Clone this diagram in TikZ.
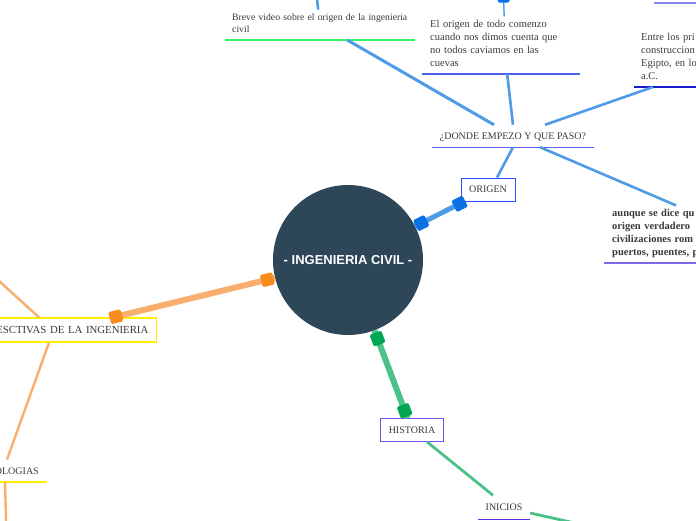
\documentclass[tikz,border=0pt]{standalone}
\usepackage{fontspec}
\setmainfont{Liberation Serif}
\newfontfamily\hubfont{Liberation Sans}
\usetikzlibrary{calc}
\definecolor{hub}{HTML}{2D4758}
\definecolor{txtgray}{HTML}{3A3A3A}
\definecolor{bluel}{HTML}{4F9BE8}
\definecolor{blued}{HTML}{0B6FE6}
\definecolor{orangel}{HTML}{F8AE6C}
\definecolor{oranged}{HTML}{F78B1E}
\definecolor{greenl}{HTML}{4CC28A}
\definecolor{greend}{HTML}{00A651}
\definecolor{origenb}{HTML}{2B4BFF}
\definecolor{dondeb}{HTML}{5B5BEA}
\definecolor{brevegr}{HTML}{38F06A}
\definecolor{elorb}{HTML}{4A62EA}
\definecolor{entreb}{HTML}{1A1AC8}
\definecolor{topp}{HTML}{8585F2}
\definecolor{aunqp}{HTML}{7B6DE0}
\definecolor{histp}{HTML}{7050F0}
\definecolor{inip}{HTML}{5A2EE0}
\definecolor{yel}{HTML}{FFEE00}
\begin{document}
\begin{tikzpicture}[x=1pt,y=-1pt,
  txt/.style={font=\fontsize{10.5}{13}\selectfont, text=txtgray, inner xsep=7, inner ysep=3.5, align=left},
  btxt/.style={txt, font=\bfseries\fontsize{10.5}{13}\selectfont},
  capbox/.style={font=\fontsize{10}{12}\selectfont, text=txtgray, text height=6.8, text depth=0, inner sep=0},
  ul/.style={line width=1.4},
  thinb/.style={draw=bluel, line width=2.6},
  thickb/.style={draw=bluel, line width=5},
  thino/.style={draw=orangel, line width=2.4},
  thicko/.style={draw=orangel, line width=6},
  thing/.style={draw=greenl, line width=2.8},
  thickg/.style={draw=greenl, line width=6},
  dia/.style={fill=#1, minimum size=12.5, inner sep=0, rounded corners=1.5}
]
\useasboundingbox (0,0) rectangle (696,520);
\clip (0,0) rectangle (696,520);
\fill[white] (0,0) rectangle (696,520);

% central topic
\node[circle, fill=hub, minimum size=150, inner sep=0, text=white,
      font=\hubfont\bfseries\fontsize{13}{15}\selectfont] (c) at (348,260) {- INGENIERIA CIVIL -};

% main topics
\node[capbox, draw=origenb, line width=1, minimum width=54, minimum height=23] (origen) at (488,189.5) {ORIGEN};
\node[capbox, font=\fontsize{10.8}{12}\selectfont, draw=yel, line width=1.2, text width=170, align=right, inner xsep=8, minimum height=24, anchor=east] (persp) at (157,330) {ESCTIVAS DE LA INGENIERIA};
\node[capbox, draw=histp, line width=1.2, minimum width=62.5, minimum height=22.5] (historia) at (412,430) {HISTORIA};

% subtopics
\node[capbox, minimum width=162, minimum height=22] (donde) at (513,136) {¿DONDE EMPEZO Y QUE PASO?};
\draw[ul, draw=dondeb] (donde.south west) -- (donde.south east);

\node[txt, font=\fontsize{9.7}{12.5}\selectfont, text width=176, anchor=south west] (breve) at (225,40) {Breve video sobre el origen de la ingenieria\\civil\strut};
\draw[ul, draw=brevegr] (breve.south west) -- (breve.south east);

\node[txt, text width=142, inner xsep=8, anchor=south west] (elorigen) at (422,74) {El origen de todo comenzo\\cuando nos dimos cuenta que\\no todos caviamos en las\\cuevas\strut};
\draw[ul, draw=elorb] (elorigen.south west) -- (elorigen.south east);

\node[txt, text width=120, anchor=south west] (entre) at (634,87) {Entre los pri\\construccion\\Egipto, en lo\\a.C.\strut};
\draw[ul, draw=entreb] (entre.south west) -- (entre.south east);

\node[btxt, text width=134, inner xsep=8, anchor=south west] (aunque) at (604,263) {aunque se dice qu\\origen verdadero\\civilizaciones rom\\puertos, puentes, p\strut};
\draw[ul, draw=aunqp] (aunque.south west) -- (aunque.south east);

\node[capbox, text width=60, align=right, inner xsep=8, minimum height=22, anchor=south east] (logias) at (47,482) {OLOGIAS};
\draw[ul, draw=yel] (logias.south west) -- (logias.south east);

\node[capbox, minimum width=52, minimum height=24] (inicios) at (504,507.5) {INICIOS};
\draw[ul, draw=inip] (inicios.south west) -- (inicios.south east);

% free ends
\coordinate (pul) at (-10,272.8);
\coordinate (ldn) at (6.3,530);
\coordinate (ubt) at (316,-10);
\coordinate (eltop) at (503.5,-3.5);
\coordinate (irt) at (590,526.4);
\coordinate (pe) at ($(persp.north east)+(-44,0)$);
\coordinate (he) at ($(historia.north)+(-4.5,0)$);

% top right fragment underline
\draw[ul, draw=topp, line width=1.6] (654,3) -- (700,3);

% thick connectors from center
\draw[thickb] (c) -- (origen);
\draw[thicko] (c) -- (pe);
\draw[thickg] (c) -- (he);

% thin connectors
\draw[thinb] ($(origen.north)+(9,0)$) -- (donde.south);
\draw[thinb, line width=3] ($(donde.north)+(-19,0)$) -- ($(breve.south)+(27,0)$);
\draw[thinb] (donde.north) -- ($(elorigen.south)+(6,0)$);
\draw[thinb] ($(donde.north)+(32,0)$) -- ($(entre.south west)+(19,0)$);
\draw[thinb] ($(donde.south)+(27,0)$) -- ($(aunque.north west)+(72,0)$);
\draw[thinb] ($(breve.north)+(-2,0)$) -- (ubt);
\draw[draw=bluel, line width=1.4] ($(elorigen.north)+(3,0)$) -- (eltop);
\draw[thino] ($(persp.north east)+(-118,0)$) -- (pul);
\draw[thino] ($(persp.south east)+(-108,0)$) -- ($(logias.north east)+(-40,0)$);
\draw[thino] ($(logias.south east)+(-42,0)$) -- (ldn);
\draw[thing] ($(historia.south)+(15,0)$) -- ($(inicios.north)+(-11,0)$);
\draw[thing] ($(inicios.east)+(0,5.5)$) -- (irt);

% connector end markers
\node[dia=blued, rotate=26.6] at ($(c)!82pt!(origen)$) {};
\node[dia=blued, rotate=26.6] at ($(c)!125pt!(origen)$) {};
\node[dia=oranged, rotate=13.9] at ($(c)!83pt!(pe)$) {};
\node[dia=oranged, rotate=13.9] at ($(c)!239pt!(pe)$) {};
\node[dia=greend, rotate=-69.4] at ($(c)!84pt!(he)$) {};
\node[dia=greend, rotate=-69.4] at ($(c)!161pt!(he)$) {};
\node[dia=blued, minimum size=12] at (eltop) {};
\end{tikzpicture}
\end{document}
